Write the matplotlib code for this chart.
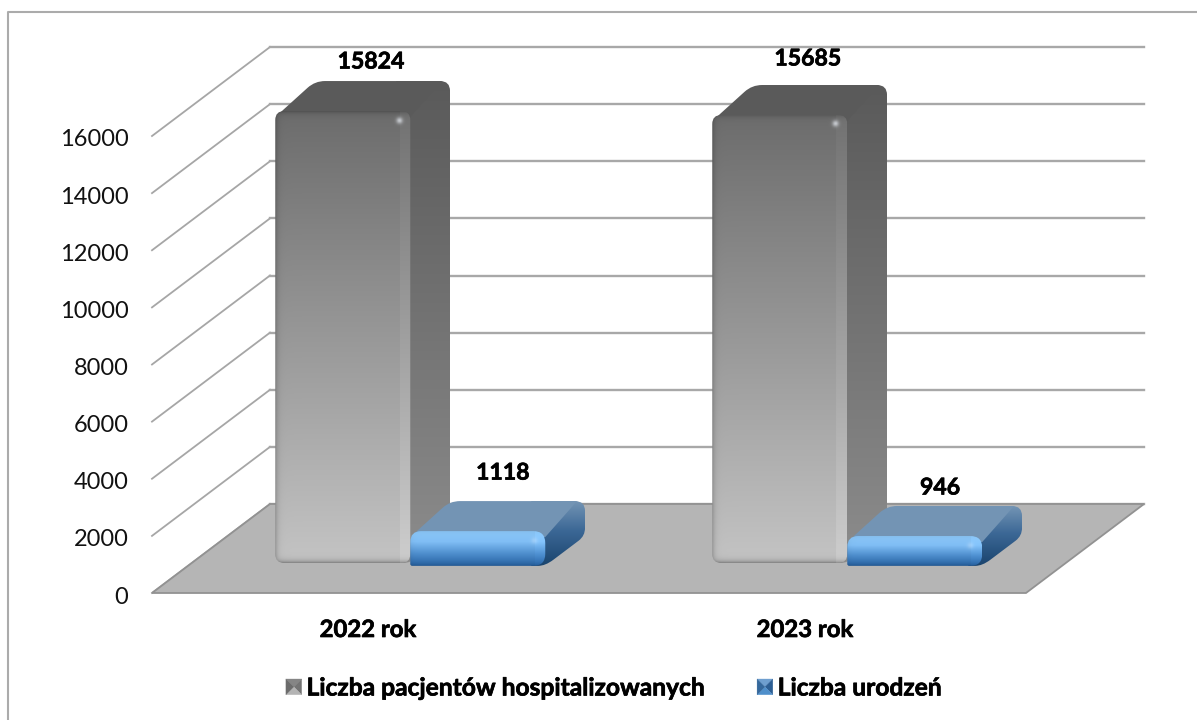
import numpy as np
import matplotlib
matplotlib.use("Agg")
import matplotlib.pyplot as plt
import matplotlib.patheffects as pe
from matplotlib.lines import Line2D
from matplotlib.patches import Polygon, PathPatch, Patch
from matplotlib.path import Path
from matplotlib.legend_handler import HandlerBase
from matplotlib.transforms import ScaledTranslation

# data
years = ['2022 rok', '2023 rok']
hospitalized = [15824, 15685]
births = [1118, 946]
series_names = ['Liczba pacjentów hospitalizowanych', 'Liczba urodzeń']
y_ticks = [0, 2000, 4000, 6000, 8000, 10000, 12000, 14000, 16000]

W, H = 1197, 720
plt.rcParams['font.family'] = ['Lato', 'DejaVu Sans']

fig = plt.figure(figsize=(W / 100, H / 100), dpi=100)
fig.patch.set_facecolor('white')
# chart frame only shows on the top and left
fig.add_artist(Line2D([7.5 / W, 7.5 / W, 1], [0, 1 - 11.7 / H, 1 - 11.7 / H], transform=fig.transFigure,
                      color='#ababab', lw=1.5))

# the axes is the front plane of the 3d box
ax = fig.add_axes([152 / W, 1 - 593 / H, 874 / W, 457 / H])
ax.set_xlim(0, 2)
ax.set_ylim(0, 16000)
ax.set_autoscale_on(False)
ax.patch.set_visible(False)
for s in ax.spines.values():
    s.set_visible(False)

sx = 874 / 2
sy = 457 / 16000
depth_x = 118 / sx
depth_y = 89 / sy

# walls
for v in y_ticks:
    ax.plot([0, depth_x], [v, v + depth_y], color='#a6a6a6', lw=1.3, clip_on=False, zorder=1)
    ax.plot([depth_x, 2 + depth_x], [v + depth_y, v + depth_y], color='#a8a8a8', lw=1.7, clip_on=False, zorder=1)
ax.add_patch(Polygon([(0, 0), (2, 0), (2 + depth_x, depth_y), (depth_x, depth_y)], fc='#b5b5b5',
                     ec='#929292', lw=1.3, clip_on=False, zorder=2))


def rounded(points, r):
    # closed path with rounded corners, r is in pixels (one per corner)
    verts, codes = [], []
    n = len(points)
    for i in range(n):
        p = np.array(points[i])
        a = np.array(points[i - 1])
        b = np.array(points[(i + 1) % n])
        la = np.hypot((a[0] - p[0]) * sx, (a[1] - p[1]) * sy)
        lb = np.hypot((b[0] - p[0]) * sx, (b[1] - p[1]) * sy)
        p1 = p + (a - p) * min(r[i] / la, 0.5)
        p2 = p + (b - p) * min(r[i] / lb, 0.5)
        verts += [p1, p, p2]
        codes += [Path.LINETO if i else Path.MOVETO, Path.CURVE3, Path.CURVE3]
    verts.append(verts[0])
    codes.append(Path.CLOSEPOLY)
    return Path(verts, codes)


def draw_img(arr, x0, x1, y0, y1, path, z):
    patch = PathPatch(path, transform=ax.transData, fc='none', ec='none')
    ax.add_patch(patch)
    patch.set_clip_on(False)
    im = ax.imshow(arr, extent=[x0, x1, y0, y1], aspect='auto', origin='upper',
                   interpolation='bilinear', zorder=z)
    im.set_clip_path(patch)
    im.set_clip_box(fig.bbox)
    return im


def ramp(stops, t):
    # stops: list of (pos, (r, g, b)) in 0-255
    pos = [s[0] for s in stops]
    return np.stack([np.interp(t, pos, [s[1][k] for s in stops]) for k in range(3)], axis=-1) / 255


def bar3d(x0, width, value, style, z):
    x1 = x0 + width
    front = 0.337
    back = 0.674
    fx0 = x0 + front * depth_x
    fx1 = x1 + front * depth_x
    fy0 = front * depth_y + style['base']
    fy1 = front * depth_y + value
    dx = (back - front) * depth_x
    dy = (back - front) * depth_y
    r = style['r']
    e = 14 / sx  # side and top run under the rounded front corners

    # side, its upper right corner is the rounded corner of the whole block
    h_px = int((fy1 + dy - fy0) * sy) + 2
    w_px = int((dx + e) * sx) + 2
    t = np.linspace(0, 1, h_px)[:, None] * np.ones((1, w_px))
    side_path = rounded([(fx1 - e, fy1 + dy), (fx1 + dx, fy1 + dy), (fx1 + dx, fy0 + dy), (fx1, fy0), (fx1 - e, fy0)],
                        [0, r, r * 0.8, r, 0])
    draw_img(ramp(style['side'], t), fx1 - e, fx1 + dx, fy0, fy1 + dy, side_path, z)

    # top
    top_path = rounded([(fx0, fy1 - 0.2 * dy), (fx0 + dx, fy1 + dy), (fx1 + dx * 0.8, fy1 + dy), (fx1, fy1 - 0.2 * dy)],
                       [r, r, 0, 0])
    ax.add_patch(PathPatch(top_path, fc=style['top'], ec='none', clip_on=False, zorder=z + 0.1))

    # front, shaded towards the edges
    h_px = int((fy1 - fy0) * sy) + 1
    w_px = int((fx1 - fx0) * sx) + 1
    yy, xx = np.mgrid[0:h_px, 0:w_px]
    rgb = ramp(style['front'], yy / (h_px - 1))
    shade = (1 - style['edge'] * np.exp(-xx / 2.5)
             - style['edge'] * np.exp(-yy / 2.5)
             - style['edge_bottom'] * np.exp(-(h_px - 1 - yy) / 2.5))
    shade = shade + style['strip'] * (xx > w_px - style['strip_w'])
    rgb = np.clip(rgb * shade[..., None], 0, 1)
    # small highlight in the top right corner
    hx, hy = w_px - 12, 9
    glow = np.exp(-((xx - hx) ** 2 + (yy - hy) ** 2) / 10.0)[..., None]
    rgb = rgb + (np.array([0.95, 0.97, 1.0]) - rgb) * glow * style['glow']
    front_path = rounded([(fx0, fy1), (fx1, fy1), (fx1, fy0), (fx0, fy0)], style['front_r'])
    draw_img(rgb, fx0, fx1, fy0, fy1, front_path, z + 0.2)


gray_style = {
    'base': 0, 'r': 10, 'front_r': [9, 9, 9, 9], 'top': '#5a5a5a', 'edge': 0.22, 'edge_bottom': 0.3,
    'strip': 0.05, 'strip_w': 12, 'glow': 0.65,
    'side': [(0, (90, 90, 90)), (1, (140, 140, 140))],
    'front': [(0, (108, 108, 108)), (1, (196, 196, 196))],
}
blue_style = {
    'base': -100, 'r': 10, 'front_r': [11, 12, 12, 2], 'top': '#7394b4', 'edge': 0.05, 'edge_bottom': 0.1,
    'strip': 0.03, 'strip_w': 12, 'glow': 0.25,
    'side': [(0, (115, 148, 180)), (0.45, (60, 104, 150)), (1, (26, 68, 110))],
    'front': [(0, (140, 200, 250)), (0.3, (128, 190, 245)), (0.65, (78, 142, 205)), (1, (40, 100, 165))],
}

bar_w = 135 / sx
pos = [0.5, 1.5]
z = 3
for i in range(len(years)):
    bar3d(pos[i] - bar_w, bar_w, hospitalized[i], gray_style, z)
    bar3d(pos[i], bar_w, births[i], blue_style, z + 1)
    z += 2

# value labels, sit above the middle of the top face
bold = [pe.withStroke(linewidth=0.5, foreground='black')]
label_shift = [29, 36]
label_shift_b = [38, 28]
for i in range(len(years)):
    ax.annotate(str(hospitalized[i]), (pos[i] - bar_w / 2, hospitalized[i]),
                xytext=(68, 50 + label_shift[i]), textcoords='offset pixels', ha='center', va='center',
                fontweight='bold', fontsize=16.6, color='black', zorder=20, annotation_clip=False,
                path_effects=bold)
    ax.annotate(str(births[i]), (pos[i] + bar_w / 2, births[i]),
                xytext=(65, 50 + label_shift_b[i]), textcoords='offset pixels', ha='center', va='center',
                fontweight='bold', fontsize=16.6, color='black', zorder=20, annotation_clip=False,
                path_effects=bold)

ax.set_yticks(y_ticks)
ax.set_xticks(pos)
ax.set_xticklabels(years, fontweight='bold', fontsize=17.2, path_effects=bold)
ax.tick_params(axis='both', length=0)
ax.tick_params(axis='y', labelsize=17, pad=17, labelcolor='#111111')
ax.tick_params(axis='x', pad=18)
for lab in ax.get_yticklabels():
    lab.set_transform(lab.get_transform() + ScaledTranslation(0, -2 / 100, fig.dpi_scale_trans))
for lab in ax.get_xticklabels():
    lab.set_transform(lab.get_transform() + ScaledTranslation(-2.5 / 100, 0, fig.dpi_scale_trans))


class BevelHandler(HandlerBase):
    def create_artists(self, legend, orig, xd, yd, width, height, fontsize, trans):
        s = min(width, height)
        x0 = -xd + (width - s) / 2
        y0 = -yd + (height - s) / 2
        c = orig.shades
        m = (x0 + s / 2, y0 + s / 2)
        a, b, d, e = (x0, y0), (x0 + s, y0), (x0 + s, y0 + s), (x0, y0 + s)
        out = []
        for pts, col in [((e, d, m), c[0]), ((b, d, m), c[1]), ((a, b, m), c[2]), ((a, e, m), c[3])]:
            out.append(Polygon(pts, fc=col, ec=col, lw=0.2, transform=trans))
        return out


h1 = Patch(label=series_names[0])
h1.shades = ['#858585', '#747474', '#b4b4b4', '#6c6c6c']
h2 = Patch(label=series_names[1])
h2.shades = ['#6f9fcf', '#2d5f94', '#4f8fcb', '#35689c']
leg = fig.legend(handles=[h1, h2], handler_map={Patch: BevelHandler()}, ncol=2, frameon=False,
                 loc='center', bbox_to_anchor=(614 / W, 1 - 688 / H), handlelength=0.64, handleheight=0.64,
                 handletextpad=0.2, columnspacing=2.1, prop={'weight': 'bold', 'size': 17.7})
for t in leg.get_texts():
    t.set_path_effects(bold)

fig.savefig('out.png', dpi=100)
